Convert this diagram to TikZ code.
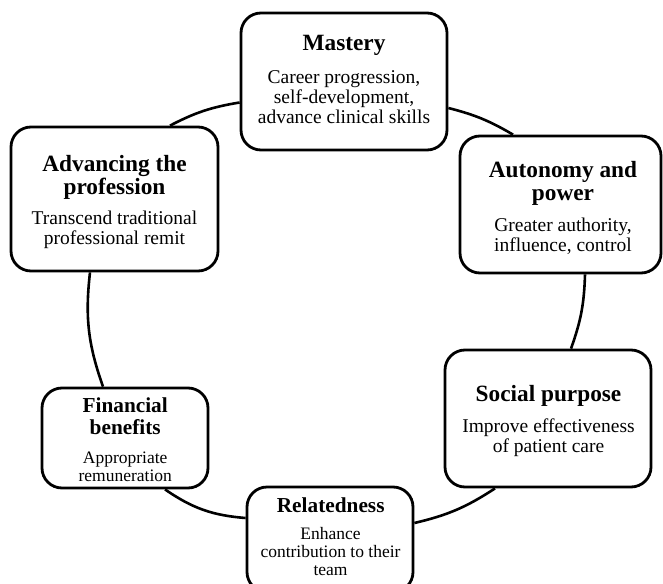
\documentclass[tikz,border=0pt]{standalone}
\usepackage{fontspec}
\setmainfont{Liberation Serif}
\begin{document}
\begin{tikzpicture}[x=1pt,y=-1pt,
  box/.style={draw, line width=2.8pt, rounded corners=20pt, inner sep=0pt},
  link/.style={line width=2.6pt},
  bigtitle/.style={anchor=north, inner sep=0pt, align=center,
    font=\fontsize{23.3}{23}\selectfont\bfseries},
  bigbody/.style={anchor=north, inner sep=0pt, align=center,
    font=\fontsize{19.5}{20}\selectfont},
  smalltitle/.style={anchor=north, inner sep=0pt, align=center,
    font=\fontsize{21.3}{21.7}\selectfont\bfseries},
  smallbody/.style={anchor=north, inner sep=0pt, align=center,
    font=\fontsize{17.5}{18}\selectfont},
]
\useasboundingbox[fill=white] (0,0) rectangle (663,583);
\begin{scope}
\clip (0,0) rectangle (663,583);

% boxes
\node[box, minimum width=206pt, minimum height=137pt] (mas) at (344,81.5) {};
\node[box, minimum width=207pt, minimum height=144pt] (adv) at (114.5,199) {};
\node[box, minimum width=201pt, minimum height=137pt] (aut) at (560.5,204.5) {};
\node[box, minimum width=206pt, minimum height=137pt] (soc) at (548,418.5) {};
\node[box, minimum width=166pt, minimum height=100pt] (fin) at (125,438) {};
\node[box, minimum width=166pt, minimum height=105pt] (rel) at (330,539.5) {};

% cycle connectors, clockwise
\draw[link] ([xshift=55.5pt]adv.north) to[bend left=9] ([yshift=-21pt]mas.west);
\draw[link] ([yshift=-26.5pt]mas.east) to[bend left=8] ([xshift=-47.5pt]aut.north);
\draw[link] ([xshift=24.5pt]aut.south) to[bend left=9] ([xshift=23pt]soc.north);
\draw[link] ([xshift=-53pt]soc.south) to[bend left=10] ([yshift=16.5pt]rel.east);
\draw[link] ([yshift=21.5pt]rel.west) to[bend left=15] ([xshift=40pt]fin.south);
\draw[link] ([xshift=-22pt]fin.north) to[bend left=13] ([xshift=-24.5pt]adv.south);

% texts
\node[bigtitle] (mas-t) at (344,35) {Mastery};
\node[bigbody] (mas-b) at (344,70) {Career progression,\\ self-development,\\ advance clinical skills};

\node[bigtitle] (adv-t) at (114.5,155) {Advancing the\\ profession};
\node[bigbody] (adv-b) at (114.5,210.7) {Transcend traditional\\ professional remit};

\node[bigtitle] (aut-t) at (563,160.7) {Autonomy and\\ power};
\node[bigbody] (aut-b) at (563,217.3) {Greater authority,\\ influence, control};

\node[bigtitle] (soc-t) at (548.5,385.3) {Social purpose};
\node[bigbody] (soc-b) at (548.5,419) {Improve effectiveness\\ of patient care};

\node[smalltitle] (fin-t) at (125.2,398) {Financial\\ benefits};
\node[smallbody] (fin-b) at (125.2,451.3) {Appropriate\\ remuneration};

\node[smalltitle] (rel-t) at (330.7,498) {Relatedness};
\node[smallbody] (rel-b) at (330.5,527.3) {Enhance\\ contribution to their\\ team};
\end{scope}
\end{tikzpicture}
\end{document}
